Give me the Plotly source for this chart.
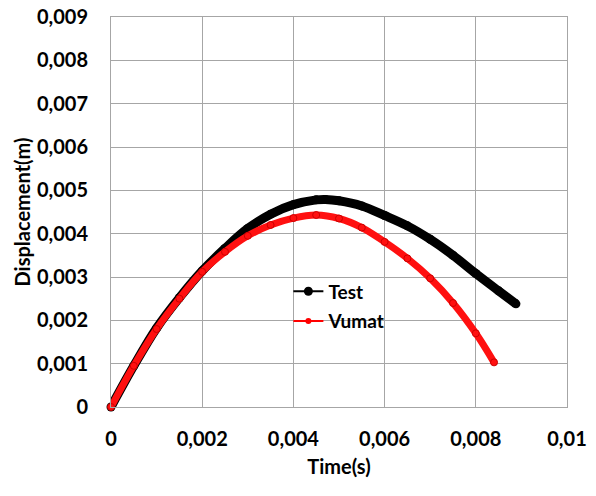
import plotly.graph_objects as go

# Test series (time in s, displacement in m)
test_t = [0, 0.0005, 0.001, 0.0015, 0.002, 0.0025, 0.003, 0.0035, 0.004, 0.0045,
          0.0047, 0.005, 0.0055, 0.006, 0.0065, 0.007, 0.0075, 0.008, 0.0085, 0.00888]
test_y = [0, 0.00095, 0.00182, 0.00252, 0.00314, 0.00366, 0.00412, 0.00445, 0.00467, 0.00478,
          0.00479, 0.00476, 0.00464, 0.00442, 0.00418, 0.00387, 0.0035, 0.00308, 0.00268, 0.00238]

# Vumat series
vumat_t = [0, 0.0005, 0.001, 0.0015, 0.002, 0.0025, 0.003, 0.0035, 0.004, 0.0045,
           0.005, 0.0055, 0.006, 0.0065, 0.007, 0.0075, 0.008, 0.0084]
vumat_y = [0, 0.00095, 0.0018, 0.0025, 0.00312, 0.00358, 0.00395, 0.0042, 0.00436, 0.00443,
           0.00435, 0.00414, 0.00381, 0.00343, 0.00297, 0.0024, 0.0017, 0.00103]

x_ticks = [0, 0.002, 0.004, 0.006, 0.008, 0.01]
x_tick_labels = ["0", "0,002", "0,004", "0,006", "0,008", "0,01"]
y_ticks = [0, 0.001, 0.002, 0.003, 0.004, 0.005, 0.006, 0.007, 0.008, 0.009]
y_tick_labels = ["0", "0,001", "0,002", "0,003", "0,004", "0,005", "0,006", "0,007", "0,008", "0,009"]

FONT = "Lato"
GRID = "#a6a6a6"

fig = go.Figure()

fig.add_trace(go.Scatter(
    x=test_t, y=test_y, mode="lines+markers", name="Test", showlegend=False,
    line=dict(color="black", width=9, shape="spline", smoothing=1),
    marker=dict(color="black", size=9), cliponaxis=False))
fig.add_trace(go.Scatter(
    x=vumat_t, y=vumat_y, mode="lines+markers", name="Vumat", showlegend=False,
    line=dict(color="#ff1010", width=7, shape="spline", smoothing=1),
    marker=dict(color="#ff1010", size=7, line=dict(color="#cc0000", width=1)), cliponaxis=False))

# legend-only entries
fig.add_trace(go.Scatter(
    x=[None], y=[None], mode="lines+markers", name="Test", legendgroup="a",
    line=dict(color="black", width=2), marker=dict(color="black", size=9)))
fig.add_trace(go.Scatter(
    x=[None], y=[None], mode="lines+markers", name="Vumat", legendgroup="b",
    line=dict(color="#ff0000", width=2), marker=dict(color="#ff0000", size=6)))

axis_common = dict(
    showgrid=True, gridcolor=GRID, gridwidth=1,
    showline=True, linecolor=GRID, linewidth=1, mirror=True,
    zeroline=False, ticks="",
    tickfont=dict(family=FONT, size=20, color="black", weight="bold"),
)

fig.update_xaxes(range=[0, 0.01], tickvals=x_ticks, ticktext=x_tick_labels,
                 ticklabelstandoff=14,
                 title=dict(text="Time(s)", font=dict(family=FONT, size=20, color="black", weight="bold"), standoff=10),
                 **axis_common)
fig.update_yaxes(range=[0, 0.009], tickvals=y_ticks, ticktext=y_tick_labels,
                 ticklabelstandoff=18,
                 title=dict(text="Displacement(m)", font=dict(family=FONT, size=20, color="black", weight="bold"), standoff=0),
                 **axis_common)

fig.update_layout(
    width=596, height=496,
    margin=dict(l=111, r=29, t=17, b=89, autoexpand=False),
    paper_bgcolor="white", plot_bgcolor="white",
    showlegend=True,
    legend=dict(x=0.389, y=0.345, xanchor="left", yanchor="top",
                bgcolor="rgba(0,0,0,0)", tracegroupgap=2, itemwidth=30,
                font=dict(family=FONT, size=19, color="black", weight="bold"),
                traceorder="grouped"),
)

fig.write_html("out.html", config={"displayModeBar": False},
               post_script="document.body.style.margin='0px';")
